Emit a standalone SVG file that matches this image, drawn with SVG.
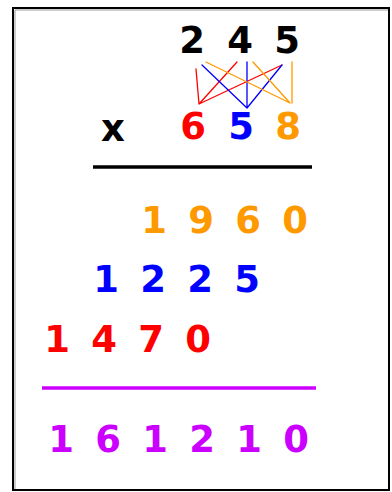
<svg xmlns="http://www.w3.org/2000/svg" width="392" height="492" viewBox="0 0 392 492">
<style>
text{font-family:"DejaVu Sans","Liberation Sans",sans-serif;font-weight:bold;font-size:37px;text-anchor:middle}
.k{fill:#000}.r{fill:#ff0000}.b{fill:#0000ff}.o{fill:#ff9900}.p{fill:#cc00ff}
.cl{stroke-width:1.3;fill:none;stroke-linecap:round}
</style>
<rect width="392" height="492" fill="#fff"/>
<rect x="13" y="8" width="376" height="482" fill="none" stroke="#000" stroke-width="2"/>
<path d="M15,489 V10 H388" fill="none" stroke="#999" stroke-width="1"/>
<g id="multiplicand"><text class="k" x="192" y="53">2</text><text class="k" x="240" y="53">4</text><text class="k" x="287" y="53">5</text></g>
<g id="times"><text class="k" x="113" y="141">x</text></g>
<g id="multiplier"><text class="r" x="193" y="139">6</text><text class="b" x="241" y="139">5</text><text class="o" x="288" y="139">8</text></g>
<g id="connectors">
<g stroke="#ff0000" class="cl"><path d="M196,69 L199,104 M199,104 L237,62 M199,104 L282,65"/></g>
<g stroke="#0000ff" class="cl"><path d="M202,65 L247,108 M247,62 L247,108 M282,65 L247,108"/></g>
<g stroke="#ff9900" class="cl"><path d="M206,62 L290,103 M253,62 L290,103 M292,62 L292,103"/></g>
<line x1="93" y1="167" x2="312" y2="167" stroke="#000" stroke-width="3.5"/>
<line x1="42" y1="388" x2="316" y2="388" stroke="#cc00ff" stroke-width="3.5"/>
</g>
<g id="partial1"><text class="o" x="154" y="233">1</text><text class="o" x="201" y="233">9</text><text class="o" x="248" y="233">6</text><text class="o" x="295" y="233">0</text></g>
<g id="partial2"><text class="b" x="106" y="292">1</text><text class="b" x="153" y="292">2</text><text class="b" x="200" y="292">2</text><text class="b" x="247" y="292">5</text></g>
<g id="partial3"><text class="r" x="57" y="352">1</text><text class="r" x="104" y="352">4</text><text class="r" x="151" y="352">7</text><text class="r" x="198" y="352">0</text></g>
<g id="result"><text class="p" x="61" y="452">1</text><text class="p" x="108" y="452">6</text><text class="p" x="155" y="452">1</text><text class="p" x="202" y="452">2</text><text class="p" x="249" y="452">1</text><text class="p" x="296" y="452">0</text></g>
</svg>
